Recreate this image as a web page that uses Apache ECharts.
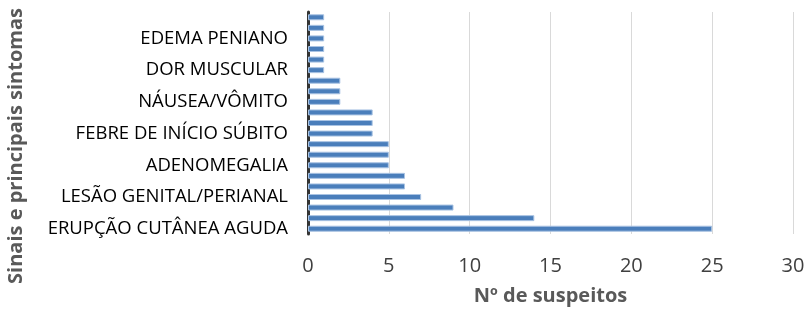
<!DOCTYPE html>
<html>
<head>
<meta charset="utf-8">
<script src="https://cdn.jsdelivr.net/npm/echarts@6/dist/echarts.min.js"></script>
<style>
  html, body { margin: 0; padding: 0; background: #fff; }
  #sintomas-chart { width: 809px; height: 311px; }
</style>
</head>
<body>
<div id="sintomas-chart"></div>
<script>
// categories from bottom to top (only every third label is shown in the figure)
const categorias = [
  'ERUPÇÃO CUTÂNEA AGUDA', 'FEBRE', 'CEFALEIA',
  'LESÃO GENITAL/PERIANAL', 'ASTENIA', 'PRURIDO',
  'ADENOMEGALIA', 'MIALGIA', 'CALAFRIOS',
  'FEBRE DE INÍCIO SÚBITO', 'DOR DE GARGANTA', 'DOR LOMBAR',
  'NÁUSEA/VÔMITO', 'TOSSE', 'DIARREIA',
  'DOR MUSCULAR', 'ARTRALGIA', 'CONJUNTIVITE',
  'EDEMA PENIANO', 'SUDORESE', 'DOR ABDOMINAL'
]
const suspeitos = [25, 14, 9, 7, 6, 6, 5, 5, 5, 4, 4, 4, 2, 2, 2, 1, 1, 1, 1, 1, 1]
const eixoX = { min: 0, max: 30, interval: 5 }

const myChart = echarts.init(document.getElementById('sintomas-chart'))
const option = {
  animation: false,
  grid: { left: 308, right: 16, top: 12, bottom: 77, containLabel: false, outerBoundsMode: 'none' },
  xAxis: {
    type: 'value',
    min: eixoX.min,
    max: eixoX.max,
    interval: eixoX.interval,
    name: 'Nº de suspeitos',
    nameLocation: 'middle',
    nameGap: 52,
    nameTextStyle: { fontFamily: 'Open Sans', fontWeight: 'bold', fontSize: 20, color: '#595959' },
    axisLine: { show: false },
    axisTick: { show: false },
    axisLabel: { fontFamily: 'Open Sans', fontSize: 20, color: '#404040', margin: 22 },
    splitLine: { show: true, lineStyle: { color: '#d9d9d9', width: 1 } }
  },
  yAxis: {
    type: 'category',
    data: categorias,
    name: 'Sinais e principais sintomas',
    nameLocation: 'middle',
    nameGap: 282,
    nameRotate: 90,
    nameTextStyle: {
      fontFamily: 'Open Sans', fontWeight: 'bold', fontSize: 20, color: '#595959',
      padding: [0, 46, 0, 0]
    },
    axisLine: { show: true, lineStyle: { color: '#333333', width: 3 } },
    axisTick: { show: false },
    axisLabel: { interval: 2, fontFamily: 'Open Sans', fontSize: 18.5, color: '#000000', margin: 20 }
  },
  series: [
    {
      name: 'Nº de suspeitos',
      type: 'bar',
      data: suspeitos,
      barWidth: 6,
      itemStyle: { color: '#4a7ebb', borderColor: '#a9c3e3', borderWidth: 1 }
    }
  ]
}
myChart.setOption(option)
</script>
</body>
</html>
